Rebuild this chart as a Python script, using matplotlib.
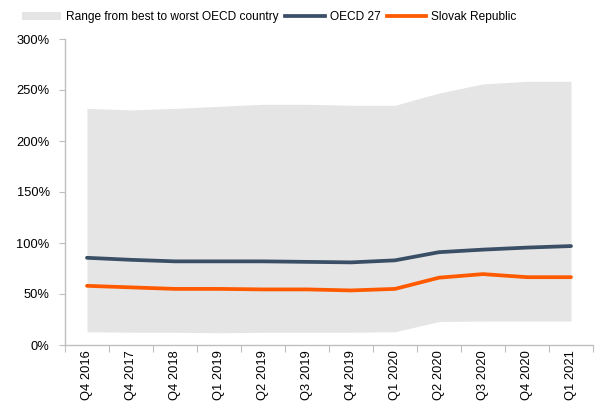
import numpy as np
import matplotlib.pyplot as plt
from matplotlib.patches import Patch
from matplotlib.lines import Line2D

plt.rcParams['font.family'] = ['Liberation Sans', 'DejaVu Sans']

quarters = ['Q4 2016', 'Q4 2017', 'Q4 2018', 'Q1 2019', 'Q2 2019', 'Q3 2019',
            'Q4 2019', 'Q1 2020', 'Q2 2020', 'Q3 2020', 'Q4 2020', 'Q1 2021']
# range from best to worst OECD country (%)
range_low = [13, 12.5, 12.5, 12, 12.5, 12.5, 12.5, 13, 23, 23.5, 23.5, 23.5]
range_high = [232, 230.5, 232, 234, 236, 236, 235, 235, 247, 256, 258.5, 258.5]
oecd27 = [85.5, 83.5, 82, 82, 82, 81.5, 81, 83, 91, 93.5, 95.5, 97]
slovak = [58, 56.5, 55, 55, 54.5, 54.5, 53.5, 55, 66, 69.5, 66.5, 66.5]

grey_band = '#e5e5e5'
navy = '#3a4f66'
orange = '#ff5a00'
axis_grey = '#bfbfbf'

fig = plt.figure(figsize=(5.95, 4.01), dpi=100)
ax = fig.add_axes([65 / 595, 1 - 345 / 401, 528 / 595, 306 / 401])

x = np.arange(len(quarters))
ax.fill_between(x, range_low, range_high, color=grey_band, linewidth=0)
ax.plot(x, oecd27, color=navy, lw=2.7, solid_capstyle='round')
ax.plot(x, slovak, color=orange, lw=2.7, solid_capstyle='round')

ax.set_xlim(-0.5, len(quarters) - 0.5)
ax.set_ylim(0, 300)
ax.set_yticks(np.arange(0, 301, 50))
ax.set_yticklabels([f'{v}%' for v in range(0, 301, 50)])

# boundary ticks between categories, labels centred on categories
ax.set_xticks(np.arange(-0.5, len(quarters) + 0.5, 1))
ax.set_xticklabels([])
ax.set_xticks(x, minor=True)
ax.set_xticklabels(quarters, minor=True, rotation=90, va='top')
ax.tick_params(axis='x', which='minor', length=0, pad=4, labelsize=9.3)
ax.tick_params(axis='x', which='major', length=5, color=axis_grey, direction='out')
ax.tick_params(axis='y', length=4, color=axis_grey, pad=7, labelsize=9.3)

for side in ['top', 'right']:
    ax.spines[side].set_visible(False)
for side in ['left', 'bottom']:
    ax.spines[side].set_color(axis_grey)
    ax.spines[side].set_linewidth(1)

handles = [Patch(facecolor=grey_band, edgecolor='none'),
           Line2D([], [], color=navy, lw=2.7),
           Line2D([], [], color=orange, lw=2.7)]
labels = ['Range from best to worst OECD country', 'OECD 27', 'Slovak Republic']
fig.legend(handles, labels, loc='upper left', bbox_to_anchor=(22 / 595, 1 - 11 / 401),
           ncol=3, frameon=False, fontsize=8.6, handlelength=3.3, handleheight=0.6,
           handletextpad=0.4, columnspacing=0.55, borderaxespad=0, borderpad=0)

fig.savefig('out.png', dpi=100)
